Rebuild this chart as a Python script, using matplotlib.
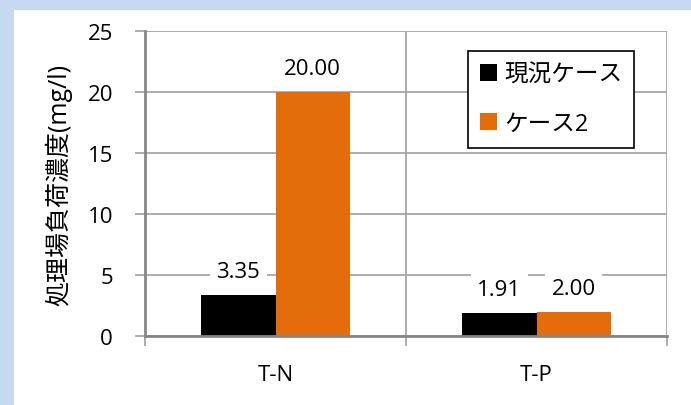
import matplotlib
matplotlib.use("Agg")
import matplotlib.pyplot as plt
import numpy as np
from matplotlib.patches import Rectangle

plt.rcParams['font.family'] = ['Open Sans', 'Noto Sans CJK JP', 'DejaVu Sans']

# data
categories = ["T-N", "T-P"]
series_names = ["現況ケース", "ケース2"]
genkyo = [3.35, 1.91]
case2 = [20.00, 2.00]
colors = ["#000000", "#E46C0A"]
y_label = "処理場負荷濃度(mg/l)"

fig = plt.figure(figsize=(6.91, 4.06), dpi=100)
fig.patch.set_facecolor("#C6D9F1")
fig.patches.append(Rectangle((14/691, 0), 1, 1 - 11/406, transform=fig.transFigure,
                             facecolor="white", edgecolor="none", zorder=-10))

ax = fig.add_axes([145/691, 1 - 337/406, (667-145)/691, (337-32)/406])
ax.set_facecolor("white")

x = np.arange(len(categories))
w = 0.285
grid_c = "#A6A6A6"

b1 = ax.bar(x - w/2, genkyo, w, color=colors[0], label=series_names[0], zorder=2)
b2 = ax.bar(x + w/2, case2, w, color=colors[1], label=series_names[1], zorder=2)

for bars, vals in [(b1, genkyo), (b2, case2)]:
    for r, v in zip(bars, vals):
        ax.annotate("%.2f" % v, (r.get_x() + r.get_width()/2, v),
                    xytext=(0, 13), textcoords="offset points",
                    ha="center", va="baseline", fontsize=16, zorder=4,
                    bbox=dict(boxstyle="square,pad=0.3", fc="white", ec="none"))

ax.set_xlim(-0.5, 1.5)
ax.set_ylim(0, 25)
ax.set_yticks(np.arange(0, 26, 5))
ax.set_xticks(x)
ax.set_xticklabels(categories)
ax.set_xticks([-0.5, 0.5, 1.5], minor=True)

ax.grid(axis="y", color=grid_c, linewidth=1.3, zorder=1)
ax.grid(axis="x", which="minor", color=grid_c, linewidth=1.3, zorder=1)
ax.set_axisbelow(True)

for s in ["top", "right"]:
    ax.spines[s].set_visible(False)
ax.spines["left"].set_color("#868686")
ax.spines["left"].set_linewidth(2)
ax.spines["bottom"].set_color("#868686")
ax.spines["bottom"].set_linewidth(2)
ax.spines["bottom"].set_zorder(3)

ax.tick_params(axis="y", length=7, width=1.3, color=grid_c, labelsize=16, pad=16)
ax.tick_params(axis="x", which="major", length=0, labelsize=16, pad=20)
ax.tick_params(axis="x", which="minor", length=7, width=1.3, color=grid_c)

ax.set_ylabel(y_label, fontsize=18)
ax.yaxis.set_label_coords(-0.14, 0.5)

leg = ax.legend(loc="upper right", bbox_to_anchor=(0.937, 0.934), fontsize=17,
                handlelength=0.72, handleheight=0.72, handletextpad=0.3,
                labelspacing=1.05, borderpad=0.5, borderaxespad=0,
                fancybox=False, edgecolor="black", framealpha=1)
leg.get_frame().set_linewidth(1.2)

fig.savefig("out.png", dpi=100, facecolor=fig.get_facecolor())
